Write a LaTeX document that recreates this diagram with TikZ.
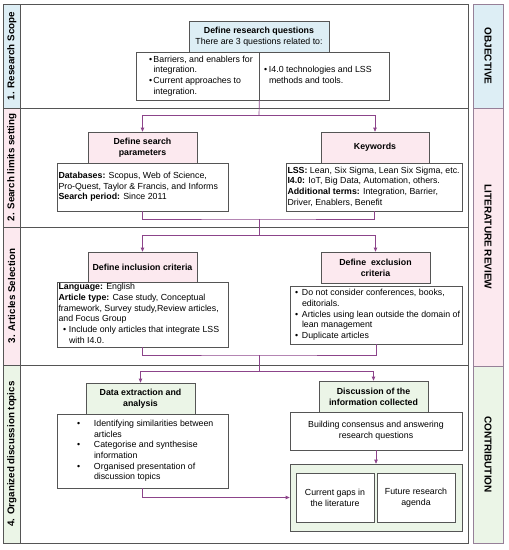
\documentclass[tikz,border=0pt]{standalone}
\usepackage{fontspec}
\setmainfont{Liberation Sans}
\usetikzlibrary{arrows.meta}
\definecolor{cblue}{RGB}{221,238,245}
\definecolor{cpink}{RGB}{252,233,239}
\definecolor{cgreen}{RGB}{235,245,231}
\definecolor{cpurp}{RGB}{140,68,138}
\definecolor{cline}{RGB}{85,85,85}
\definecolor{cside}{RGB}{150,128,152}
\newcommand\lbox[3]{\makebox[#1][l]{\hspace*{#2}\begin{tabular}{@{}l@{}}#3\end{tabular}}}
\newcommand\bl[1]{\makebox[#1][l]{•}}
\begin{document}
\begin{tikzpicture}[x=1pt,y=-1pt,
 box/.style={draw=cline, line width=0.7pt, fill=white, inner sep=0pt, font=\fontsize{8.8}{10.7}\selectfont},
 head/.style={box, align=center, font=\fontsize{8.8}{10.7}\selectfont\bfseries},
 ctext/.style={box, align=center},
 conn/.style={draw=cpurp, line width=0.7pt},
 arr/.style={conn, -{Triangle[length=4pt,width=3.5pt]}},
 panel/.style={draw=cline, line width=0.8pt},
 side/.style={draw=cside, line width=0.8pt},
 rowlab/.style={rotate=90, font=\fontsize{9.8}{11}\selectfont\bfseries},
 sidelab/.style={rotate=-90, font=\fontsize{10}{12}\selectfont\bfseries},
]
\useasboundingbox (0,0) rectangle (509,550);
% panels
\draw[panel, fill=cblue] (3,4) rectangle (20.5,108);
\draw[panel, fill=cpink] (3,108) rectangle (20.5,227);
\draw[panel, fill=cpink] (3,227) rectangle (20.5,365);
\draw[panel, fill=cgreen] (3,365) rectangle (20.5,543);
\draw[panel] (20.5,4) rectangle (468,108);
\draw[panel] (20.5,108) rectangle (468,227);
\draw[panel] (20.5,227) rectangle (468,365);
\draw[panel] (20.5,365) rectangle (468,543);
\draw[side, fill=cblue] (473,4) rectangle (503,108);
\draw[side, fill=cpink] (473,108) rectangle (503,366);
\draw[side, fill=cgreen] (473,366) rectangle (503,543);
\node[rowlab] (l1) at (11.75,56) {1. Research Scope};
\node[rowlab] (l2) at (11.75,167.5) {2. Search limits setting};
\node[rowlab] (l3) at (11.75,296) {3. Articles Selection};
\node[rowlab] (l4) at (11.75,454) {4. Organized discussion topics};
\node[sidelab] (s1) at (488,56) {OBJECTIVE};
\node[sidelab] (s2) at (488,237) {LITERATURE REVIEW};
\node[sidelab] (s3) at (488,454.5) {CONTRIBUTION};
% row 1
\node[head, fill=cblue, minimum width=140pt, minimum height=31pt] (rq) at (259,36.5) {Define research questions\\{\mdseries There are 3 questions related to:}};
\node[box, minimum width=123pt, minimum height=48pt] (rqL) at (197.5,76) {\lbox{123pt}{13pt}{\bl{4.5pt}Barriers, and enablers for\\\hspace*{4.5pt}integration.\\\bl{4.5pt}Current approaches to\\\hspace*{4.5pt}integration.}};
\node[box, minimum width=130pt, minimum height=48pt] (rqR) at (324,76) {\lbox{130pt}{5pt}{\bl{5pt}I4.0 technologies and LSS\\\hspace*{5pt}methods and tools.}};
% row 2
\node[head, fill=cpink, minimum width=109pt, minimum height=31pt] (sp) at (142.5,147.5) {Define search\\parameters};
\node[box, minimum width=171pt, minimum height=48pt] (spD) at (142.5,187) {\lbox{171pt}{1.5pt}{\textbf{Databases:} Scopus, Web of Science,\\Pro-Quest, Taylor \& Francis, and Informs\\\textbf{Search period:} Since 2011}};
\node[head, fill=cpink, minimum width=108pt, minimum height=31pt] (kw) at (375,147.5) {Keywords};
\node[box, minimum width=176pt, minimum height=48pt] (kwD) at (374,187) {\lbox{176pt}{1.5pt}{\textbf{LSS:} Lean, Six Sigma, Lean Six Sigma, etc.\\\textbf{I4.0:} IoT, Big Data, Automation, others.\\\textbf{Additional terms:} Integration, Barrier,\\Driver, Enablers, Benefit}};
% row 3
\node[head, fill=cpink, minimum width=109pt, minimum height=30pt] (inc) at (142.5,267) {Define inclusion criteria};
\node[box, minimum width=171pt, minimum height=65pt] (incD) at (142.5,314.5) {\lbox{171pt}{1.5pt}{\textbf{Language:} English\\\textbf{Article type:} Case study, Conceptual\\framework, Survey study,Review articles,\\and Focus Group\\\hspace*{4.5pt}\bl{6pt}Include only articles that integrate LSS\\\hspace*{10.5pt}with I4.0.}};
\node[head, fill=cpink, minimum width=109pt, minimum height=31pt] (exc) at (375.5,267.5) {Define\ \ exclusion\\criteria};
\node[box, minimum width=172pt, minimum height=58pt] (excD) at (376,315) {\lbox{172pt}{5pt}{\bl{7pt}Do not consider conferences, books,\\\hspace*{7pt}editorials.\\\bl{7pt}Articles using lean outside the domain of\\\hspace*{7pt}lean management\\\bl{7pt}Duplicate articles}};
% row 4
\node[head, fill=cgreen, minimum width=109pt, minimum height=31pt] (de) at (140.5,398.5) {Data extraction and\\analysis};
\node[box, minimum width=171pt, minimum height=74pt] (deD) at (142.5,451) {\lbox{171pt}{20pt}{\bl{17pt}Identifying similarities between\\\hspace*{17pt}articles\\\bl{17pt}Categorise and synthesise\\\hspace*{17pt}information\\\bl{17pt}Organised presentation of\\\hspace*{17pt}discussion topics}};
\node[head, fill=cgreen, minimum width=109pt, minimum height=31pt] (dc) at (373.5,396.5) {Discussion of the\\information collected};
\node[ctext, minimum width=172pt, minimum height=38pt] (dcD) at (376,431) {Building consensus and answering\\research questions};
\node[box, fill=cgreen, minimum width=172pt, minimum height=67pt] (grp) at (376,497.5) {};
\node[ctext, minimum width=78pt, minimum height=49pt] (gap) at (335,497.5) {Current gaps in\\the literature};
\node[ctext, minimum width=78pt, minimum height=49pt] (fut) at (416,497.5) {Future research\\agenda};
% connectors
\coordinate (j1) at (259,115.7);
\coordinate (j2) at (259,219);
\coordinate (j3) at (259,235);
\coordinate (j4) at (259,355);
\coordinate (j5) at (259,371);
\draw[conn] (rqL.south east) -- (j1);
\draw[arr] (j1) -| (sp.north);
\draw[arr] (j1) -| (kw.north);
\draw[conn] (spD.south) |- (j2) -| (kwD.south);
\draw[conn] (j2) -- (j3);
\draw[arr] (j3) -| (inc.north);
\draw[arr] (j3) -| (exc.north);
\draw[conn] (incD.south) |- (j4) -| (excD.south);
\draw[conn] (j4) -- (j5);
\draw[arr] (j5) -| (de.north);
\draw[arr] (j5) -| (dc.north);
\draw[arr] (dcD.south) -- (grp.north);
\draw[arr] (deD.south) |- (grp.west);
\end{tikzpicture}
\end{document}
